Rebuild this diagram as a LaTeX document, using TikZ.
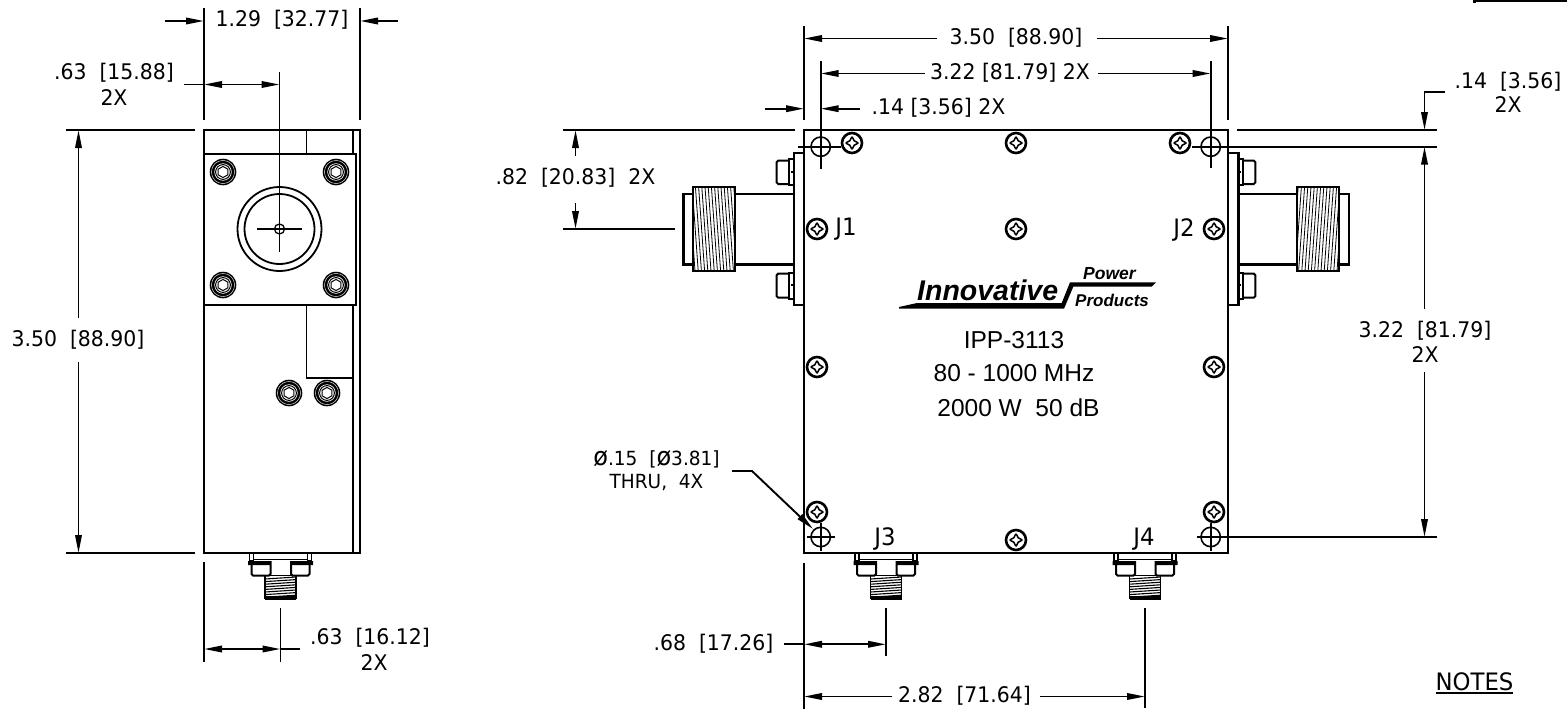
\documentclass[tikz,border=0pt]{standalone}
\usepackage{graphicx}
\usepackage{fontspec}
\setmainfont{Liberation Sans}
\newfontfamily\cad[FakeStretch=0.95]{DejaVu Sans}
\usetikzlibrary{arrows.meta,shapes.geometric}
\newcommand{\dia}{\scalebox{1.3}{ø}}
\tikzset{
  tip/.tip={Triangle[length=18pt,width=6.5pt]},
  ln/.style={line width=1.9pt,black},
  body/.style={line width=2.4pt,black},
  dimline/.style={line width=1.9pt,black},
  oneway/.style={dimline,-tip},
  twoway/.style={dimline,tip-tip},
  dim/.style={font=\cad\fontsize{21.5}{24}\selectfont,inner sep=0pt,black},
  jlabel/.style={font=\cad\fontsize{24}{26}\selectfont,inner sep=0pt,black},
  smalldim/.style={font=\cad\fontsize{19.5}{22}\selectfont,inner sep=0pt,black},
  plate/.style={font=\fontsize{24.5}{27}\selectfont,inner sep=0pt,black},
  logo/.style={inner sep=0pt,anchor=base west,black},
  screw/.pic={
    \draw[line width=2.6pt] (0,0) circle (10);
    \draw[line width=1.5pt,line join=round] plot[smooth cycle,tension=.9] coordinates
      {(0,-6)(2.2,-2.2)(6,0)(2.2,2.2)(0,6)(-2.2,2.2)(-6,0)(-2.2,-2.2)};
  },
  capbolt/.pic={
    \fill[black] (0,0) circle (13.3);
    \draw[white,line width=.4pt] (0,0) circle (11.6);
    \fill[white] (0,0) circle (8.7);
    \draw[line width=1pt] (0,0) circle (7.4);
    \draw[line width=1pt] (30:5.6)--(90:5.6)--(150:5.6)--(210:5.6)--(270:5.6)--(330:5.6)--cycle;
  },
  bottomconn/.pic={
    \draw[line width=1.2pt] (-31,553) rectangle (-27,561) (27,553) rectangle (31,561);
    \draw[line width=1pt] (-27,559.5) -- (27,559.5);
    \fill[black] (-32.5,561) rectangle (-9,565) (9.5,561) rectangle (32.5,565);
    \draw[line width=2pt,rounded corners=1.5pt] (-29,565) -- (-29,575.5) -- (-10,575.5) -- (-10,565);
    \draw[line width=2pt,rounded corners=1.5pt] (10.5,565) -- (10.5,575.5) -- (29,575.5) -- (29,565);
    \draw[line width=1.5pt] (-15.3,575.5) rectangle (15.7,598.5);
    \foreach \yy in {578,580.6,...,597}{
      \draw[line width=1.1pt] (-15.3,\yy+1) -- (15.7,\yy-1);
    }
    \fill[black] (-15.3,596) rectangle (15.7,599.5);
  },
  sideconn/.pic={
    \draw[body] (804,153) -- (793.7,153) -- (793.7,305) -- (804,305);
    \draw[line width=2pt] (789.3,159) rectangle (793.7,185);
    \draw[line width=2pt] (789.3,272.7) rectangle (793.7,299);
    \draw[line width=2pt,rounded corners=1.5pt] (789.3,160.7) -- (776.7,160.7) -- (776.7,184) -- (789.3,184);
    \draw[line width=2pt,rounded corners=1.5pt] (789.3,273.7) -- (776.7,273.7) -- (776.7,297.7) -- (789.3,297.7);
    \draw[line width=1.2pt] (791,172) -- (793,172) (791,285) -- (793,285);
    \draw[body] (793.7,194) -- (735,194) (793.7,264.3) -- (735,264.3);
    \draw[body] (692.7,193.7) -- (683.3,193.7) -- (683.3,264.3) -- (692.7,264.3);
    \begin{scope}
      \clip (692.7,186.7) rectangle (735,271);
      \foreach \xx in {689,692.2,...,735}{
        \draw[line width=.8pt] (\xx,186.7) -- (\xx+6,271);
      }
    \end{scope}
    \draw[line width=2pt] (692.7,186.7) rectangle (735,271);
  },
}
\begin{document}
\begin{tikzpicture}[x=1pt,y=-1pt]
\useasboundingbox (0,0) rectangle (1567,709);
\fill[white] (0,0) rectangle (1567,709);

% ---- corner of the title box
\draw[body] (1474.5,3) -- (1474.5,1.2) -- (1567,1.2);

% ---- left view: body
\draw[body] (204,130) rectangle (360,553);
\draw[ln] (352.7,130) -- (352.7,553);
\draw[ln] (306.5,130) -- (306.5,153.5);
\draw[ln] (306.5,304.5) -- (306.5,378) -- (352.7,378);
\draw[line width=2pt,fill=white] (204,153.5) rectangle (355.5,304.5);
\pic at (223,172) {capbolt};
\pic at (336,172) {capbolt};
\pic at (223,285) {capbolt};
\pic at (336,285) {capbolt};
\pic at (289,393) {capbolt};
\pic at (327,393) {capbolt};
\draw[line width=1.8pt] (279.5,229) circle (42);
\draw[line width=1.8pt] (279.5,229) circle (35);
\draw[line width=1.3pt] (279.5,229) circle (5);
\draw[ln] (257,229) -- (302,229);
\draw[ln] (279.5,72) -- (279.5,252);
\pic at (280.5,0) {bottomconn};

% ---- left view: dimensions
\draw[ln] (204,8) -- (204,120);
\draw[ln] (360,8) -- (360,120);
\draw[oneway] (165,21) -- (204,21);
\draw[oneway] (398,21) -- (360,21);
\node[dim] (d129) at (282,19.5) {1.29\ \ [32.77]};
\draw[dimline] (184,84.5) -- (204,84.5);
\draw[twoway] (204,84.5) -- (279.5,84.5);
\node[dim] (d063a) at (114,73) {.63\ \ [15.88]};
\node[dim] (d063ax) at (114,98) {2X};
\draw[ln] (66,130) -- (195,130);
\draw[ln] (66,553) -- (195,553);
\draw[oneway] (78.5,318) -- (78.5,130);
\draw[oneway] (78.5,362) -- (78.5,553);
\node[dim] (d350a) at (78,340) {3.50\ \ [88.90]};
\draw[ln] (204,562) -- (204,661.5);
\draw[ln] (280.5,608) -- (280.5,661.5);
\draw[twoway] (204,649) -- (280.5,649);
\draw[dimline] (280.5,649) -- (300,649);
\node[dim] (d063b) at (370,638) {.63\ \ [16.12]};
\node[dim] (d063bx) at (374,663) {2X};

% ---- right view: body
\draw[body] (804,130) rectangle (1228,553);
\pic at (0,0) {sideconn};
\begin{scope}[xshift=2032pt,xscale=-1]
  \pic[transform shape] at (0,0) {sideconn};
\end{scope}
\pic at (886,0) {bottomconn};
\pic at (1145,0) {bottomconn};

\foreach \px/\py in {852/143,1016/143,1180/143,817/229,1016/229,1214/229,817/367,1214/367,817/512,1214/512,1016/540}{
  \pic at (\px,\py) {screw};
}

% ---- mounting holes
\foreach \hx/\hy in {820.7/146.7,1210.7/146.7,820.7/537,1210.7/537}{
  \draw[line width=1.6pt] (\hx,\hy) circle (9.7);
}
\draw[ln] (820.7,61) -- (820.7,169);
\draw[ln] (798,146.7) -- (841,146.7);
\draw[ln] (1210.7,61) -- (1210.7,168);
\draw[ln] (1192,146.7) -- (1437,146.7);
\draw[ln] (820.7,523) -- (820.7,551);
\draw[ln] (807,537) -- (834.5,537);
\draw[ln] (1210.7,523) -- (1210.7,551);
\draw[ln] (1197,537) -- (1437,537);

% ---- right view: dimensions
\draw[ln] (804,26) -- (804,120);
\draw[ln] (1228,26) -- (1228,120);
\draw[oneway] (937,38.5) -- (804,38.5);
\draw[oneway] (1097,38.5) -- (1228,38.5);
\node[dim] (d350b) at (1016,38) {3.50\ \ [88.90]};
\draw[oneway] (925,73.5) -- (820.7,73.5);
\draw[oneway] (1098,73.5) -- (1210.7,73.5);
\node[dim] (d322a) at (1010,72.5) {3.22 [81.79] 2X};
\draw[oneway] (765,108.7) -- (804,108.7);
\draw[oneway] (860,108.7) -- (820.7,108.7);
\node[dim] (d014a) at (938.5,108) {.14 [3.56] 2X};
\draw[ln] (563,130) -- (795,130);
\draw[ln] (563,229) -- (675,229);
\draw[oneway] (575.5,156) -- (575.5,130);
\draw[oneway] (575.5,203) -- (575.5,229);
\node[dim] (d082) at (575.5,178) {.82\ \ [20.83]\ \ 2X};
\draw[ln] (1237,130) -- (1437,130);
\draw[dimline,-tip] (1445,92) -- (1424.5,92) -- (1424.5,130);
\draw[oneway] (1424.5,309) -- (1424.5,146.7);
\draw[oneway] (1424.5,372) -- (1424.5,537);
\node[dim] (d014b) at (1508,82) {.14\ \ [3.56]};
\node[dim] (d014bx) at (1508,105) {2X};
\node[dim] (d322b) at (1425,331) {3.22\ \ [81.79]};
\node[dim] (d322bx) at (1425,355) {2X};
\draw[ln] (804,563) -- (804,709);
\draw[ln] (886,608) -- (886,656);
\draw[twoway] (804,644.3) -- (886,644.3);
\draw[dimline] (784,644.3) -- (804,644.3);
\node[dim] (d068) at (713.5,644) {.68\ \ [17.26]};
\draw[ln] (1145,608) -- (1145,708);
\draw[oneway] (892,696.5) -- (804,696.5);
\draw[oneway] (1040,696.5) -- (1145,696.5);
\node[dim] (d282) at (964.5,696) {2.82\ \ [71.64]};
\node[smalldim] (d015) at (656.5,459) {\dia.15\ \ [\dia3.81]};
\node[smalldim] (d015b) at (656.5,483) {THRU,\ \ 4X};
\draw[dimline,-tip] (732,471) -- (752,471) -- (813,529);

% ---- connector labels
\node[jlabel] (j1) at (846,229.5) {J1};
\node[jlabel] (j2) at (1184,229.5) {J2};
\node[jlabel] (j3) at (885,539) {J3};
\node[jlabel] (j4) at (1144,539) {J4};

% ---- name plate
\fill[black] (899,307) -- (917,303) -- (1061.7,303) -- (1070,282.3) -- (1156,282.3) -- (1151.7,286.7) -- (1073.3,286.7) -- (1064,308.7) -- (899,308.7) -- cycle;
\node[logo,font=\bfseries\itshape\fontsize{28.5}{31}\selectfont] (innov) at (917,300) {Innovative};
\node[logo,font=\bfseries\itshape\fontsize{17.5}{20}\selectfont] (power) at (1083,279) {Power};
\node[logo,font=\bfseries\itshape\fontsize{17}{20}\selectfont] (prod) at (1075,306) {Products};
\node[plate] (model) at (1014,340) {IPP-3113};
\node[plate] (band) at (1014,373) {80 - 1000 MHz};
\node[plate] (rating) at (1018.5,408) {2000 W\ \ 50 dB};

% ---- notes heading
\node[jlabel] (notes) at (1474.5,681.5) {NOTES};
\draw[line width=2pt] (1436,692.5) -- (1513,692.5);
\end{tikzpicture}
\end{document}
